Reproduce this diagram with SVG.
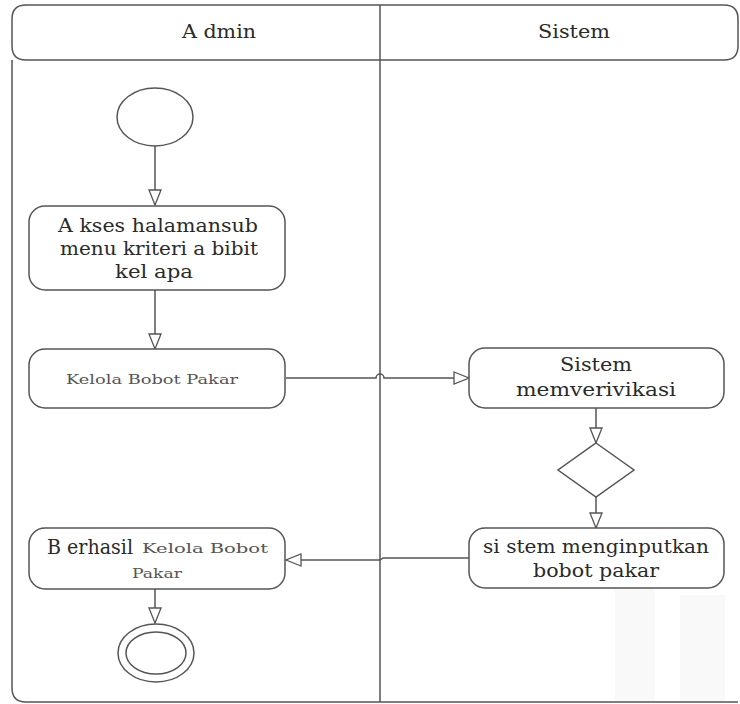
<svg xmlns="http://www.w3.org/2000/svg" width="740" height="704" viewBox="0 0 740 704">
<style>
.frame{fill:none;stroke:#555;stroke-width:1.5}
.node{fill:#fff;stroke:#555;stroke-width:1.5}
.edge{fill:none;stroke:#555;stroke-width:1.5}
.lbl{fill:#2a2a2a;text-anchor:middle}
.t{font-size:19px}
.s{font-size:13px;fill:#555}
.h{font-size:19px}
</style>
<defs>
<marker id="arr" markerWidth="18" markerHeight="14" refX="16" refY="7" orient="auto" markerUnits="userSpaceOnUse">
<path d="M1,1 L16,7 L1,13 Z" fill="#fff" stroke="#555" stroke-width="1.3"/>
</marker>
</defs>
<rect width="740" height="704" fill="#fff"/>
<g id="watermark" fill="#f9f9f9">
<rect x="615" y="580" width="40" height="122"/>
<rect x="680" y="595" width="45" height="107"/>
</g>
<g id="swimlanes" font-family="'DejaVu Serif','Liberation Serif',serif">
<path class="frame" d="M12,60 L12,688 Q12,702 26,702 L738,702"/>
<path class="frame" d="M26,5 L724,5 Q738,5 738,19 L738,46 Q738,60 724,60 L26,60 Q12,60 12,46 L12,19 Q12,5 26,5 Z"/>
<line class="frame" x1="380" y1="5" x2="380" y2="702"/>
<text class="lbl h" x="219" y="38" textLength="74" lengthAdjust="spacingAndGlyphs">A dmin</text>
<text class="lbl h" x="574" y="38" textLength="72" lengthAdjust="spacingAndGlyphs">Sistem</text>
</g>
<g id="connectors">
<line class="edge" x1="155" y1="145" x2="155" y2="205" marker-end="url(#arr)"/>
<line class="edge" x1="155" y1="290" x2="155" y2="349" marker-end="url(#arr)"/>
<path class="edge" d="M286,378 L376,378 A4,4 0 0 1 384,378 L469,378" marker-end="url(#arr)"/>
<line class="edge" x1="596" y1="408" x2="596" y2="443" marker-end="url(#arr)"/>
<line class="edge" x1="596" y1="497" x2="596" y2="528" marker-end="url(#arr)"/>
<path class="edge" d="M469,558 L383,558 L380,560 L286,560" marker-end="url(#arr)"/>
<line class="edge" x1="155" y1="589" x2="155" y2="623" marker-end="url(#arr)"/>
</g>
<g id="start">
<ellipse class="node" cx="155" cy="117" rx="38" ry="29"/>
</g>
<g id="akses" font-family="'DejaVu Serif','Liberation Serif',serif">
<rect class="node" x="29" y="206" width="256" height="84" rx="16"/>
<text class="lbl t" x="158" y="232" textLength="200" lengthAdjust="spacingAndGlyphs">A kses halamansub</text>
<text class="lbl t" x="159" y="255" textLength="198" lengthAdjust="spacingAndGlyphs">menu kriteri a bibit</text>
<text class="lbl t" x="154" y="278" textLength="78" lengthAdjust="spacingAndGlyphs">kel apa</text>
</g>
<g id="kelola" font-family="'DejaVu Serif','Liberation Serif',serif">
<rect class="node" x="29" y="349" width="256" height="59" rx="16"/>
<text class="lbl s" x="152" y="384" textLength="172" lengthAdjust="spacingAndGlyphs">Kelola Bobot Pakar</text>
</g>
<g id="verifikasi" font-family="'DejaVu Serif','Liberation Serif',serif">
<rect class="node" x="469" y="348" width="255" height="60" rx="16"/>
<text class="lbl t" x="596" y="371" textLength="72" lengthAdjust="spacingAndGlyphs">Sistem</text>
<text class="lbl t" x="596" y="396" textLength="160" lengthAdjust="spacingAndGlyphs">memverivikasi</text>
</g>
<g id="decision">
<path class="node" d="M596,443 L634,470 L596,497 L558,470 Z"/>
</g>
<g id="input" font-family="'DejaVu Serif','Liberation Serif',serif">
<rect class="node" x="469" y="528" width="255" height="60" rx="16"/>
<text class="lbl t" x="596" y="553" textLength="226" lengthAdjust="spacingAndGlyphs">si stem menginputkan</text>
<text class="lbl t" x="596" y="577" textLength="126" lengthAdjust="spacingAndGlyphs">bobot pakar</text>
</g>
<g id="berhasil" font-family="'DejaVu Serif','Liberation Serif',serif">
<rect class="node" x="29" y="528" width="256" height="61" rx="16"/>
<text class="lbl" x="90" y="554" font-size="20" textLength="86" lengthAdjust="spacingAndGlyphs">B erhasil</text>
<text class="lbl s" x="205" y="553" textLength="126" lengthAdjust="spacingAndGlyphs">Kelola Bobot</text>
<text class="lbl s" x="157" y="578" textLength="50" lengthAdjust="spacingAndGlyphs">Pakar</text>
</g>
<g id="end">
<ellipse class="node" cx="156" cy="653" rx="38" ry="29"/>
<ellipse class="node" cx="156" cy="653" rx="30" ry="21"/>
</g>
</svg>
